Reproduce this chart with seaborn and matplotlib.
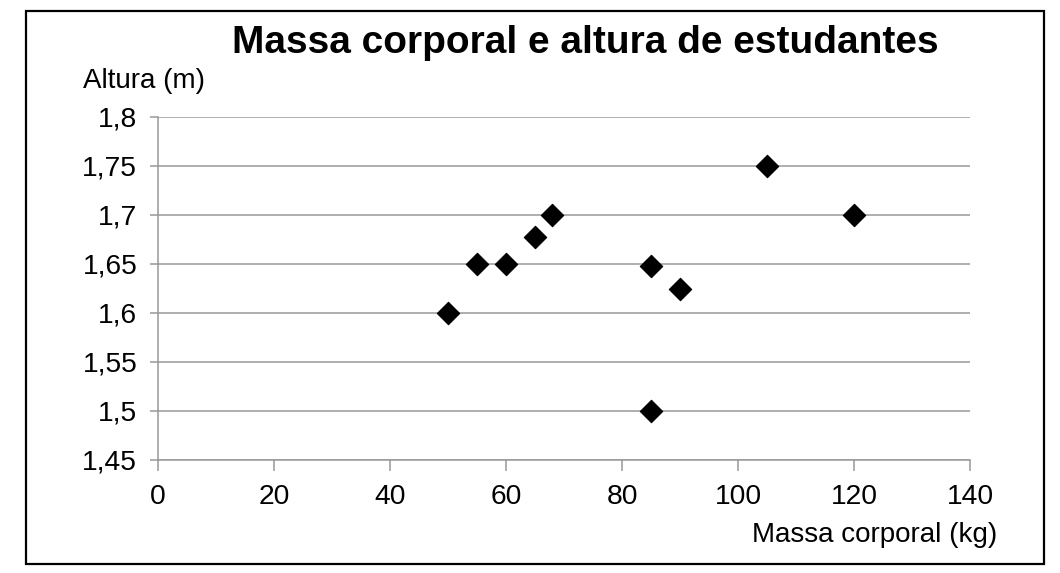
import matplotlib
matplotlib.use("Agg")
import matplotlib.pyplot as plt
import seaborn as sns
import pandas as pd
from matplotlib.ticker import FuncFormatter, MultipleLocator
from matplotlib.patches import Rectangle

# Data
massa = [50, 55, 60, 65, 68, 85, 90, 85, 105, 120]
altura = [1.60, 1.65, 1.65, 1.678, 1.70, 1.648, 1.625, 1.50, 1.75, 1.70]
title = "Massa corporal e altura de estudantes"
xlabel = "Massa corporal (kg)"
ylabel = "Altura (m)"

df = pd.DataFrame({"massa": massa, "altura": altura})

sns.set_theme(style="white")
plt.rcParams["font.family"] = ["Liberation Sans", "DejaVu Sans"]

W, H = 1060, 573
fig = plt.figure(figsize=(W / 100, H / 100), dpi=100)
fig.patch.set_facecolor("white")

ax_l, ax_r, ax_t, ax_b = 158, 970, 117, 460
ax = fig.add_axes([ax_l / W, 1 - ax_b / H, (ax_r - ax_l) / W, (ax_b - ax_t) / H])

sns.scatterplot(data=df, x="massa", y="altura", marker="D", color="black",
                s=130, linewidth=0.8, edgecolor="black", ax=ax, zorder=3)

ax.set_xlim(0, 140)
ax.set_ylim(1.45, 1.8)
ax.xaxis.set_major_locator(MultipleLocator(20))
ax.yaxis.set_major_locator(MultipleLocator(0.05))
ax.yaxis.set_major_formatter(FuncFormatter(lambda v, p: f"{round(v, 3):g}".replace(".", ",")))
ax.xaxis.set_major_formatter(FuncFormatter(lambda v, p: f"{v:g}"))

ax.set_xlabel("")
ax.set_ylabel("")

gc = "#999999"
ax.grid(axis="y", color=gc, linewidth=1.1)
ax.grid(axis="x", visible=False)
for s in ["top", "right"]:
    ax.spines[s].set_visible(False)
for s in ["left", "bottom"]:
    ax.spines[s].set_color(gc)
    ax.spines[s].set_linewidth(1.1)

ax.tick_params(axis="y", which="major", left=True, length=6, width=1.1, color=gc,
               pad=9, labelsize=20.3, labelcolor="black")
ax.tick_params(axis="x", which="major", bottom=True, length=8, width=1.1, color=gc,
               pad=9.5, labelsize=20.3, labelcolor="black")

fig.text(585 / W, 1 - 53 / H, title, ha="center", va="baseline",
         fontsize=28, fontweight="bold", color="black")
fig.text(83 / W, 1 - 88 / H, ylabel, ha="left", va="baseline", fontsize=20, color="black")
fig.text(997 / W, 1 - 541.7 / H, xlabel, ha="right", va="baseline", fontsize=20, color="black")

fig.patches.append(Rectangle((26 / W, 1 - 564 / H), (1044 - 26) / W, (564 - 11) / H,
                             transform=fig.transFigure, fill=False,
                             edgecolor="black", linewidth=1.6, zorder=10))

fig.savefig("out.png", dpi=100, facecolor="white")
